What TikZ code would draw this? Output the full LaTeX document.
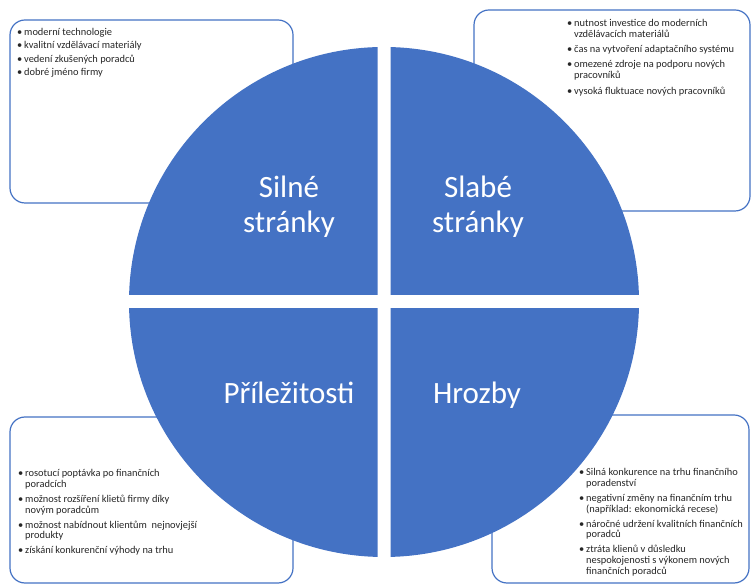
\documentclass[tikz,border=0pt]{standalone}
\usepackage{fontspec}
\setmainfont{Carlito}
\definecolor{swotblue}{HTML}{4472C4}
\newcommand{\bul}{\makebox[7pt][l]{\textbullet}}
\newcommand{\ind}{\hspace*{7pt}}
\tikzset{
  box/.style={draw=swotblue, line width=1.2pt, rounded corners=15pt, fill=white},
  list/.style={align=left, inner sep=0pt, anchor=north west, text=black!85,
    font=\fontsize{10.4}{10.9}\selectfont},
  title/.style={text=white, align=center, anchor=base, inner sep=0pt,
    font=\fontsize{31}{35}\selectfont}
}
\begin{document}
\begin{tikzpicture}[x=1pt,y=1pt]
		\useasboundingbox (0,0) rectangle (751,585);
		% Boxes
		\draw[box] (10,382) rectangle (293,565);
		\draw[box] (474,374) rectangle (750,575);
		\draw[box] (10,2) rectangle (293,168);
		\draw[box] (492,2) rectangle (749,170);
		
		% Quadrants
		\foreach \sx/\sy in {-1/1,1/1,-1/-1,1/-1}
		{
			\begin{scope}
				\clip (384+\sx*6.5,283+\sy*7) rectangle ++(\sx*300,\sy*300);
				\fill[swotblue] (384,283) circle (255pt);
			\end{scope}
		}
		
		% Titles
		\node[title] (silne) at (289,352) {Silné\\stránky};
		\node[title] (slabe) at (478,352) {Slabé\\stránky};
		\node[title] (prilez) at (289,181) {Příležitosti};
		\node[title] (hrozby) at (477,181) {Hrozby};
		
		% Lists
		\node[list] (silnelist) at (17,557) {\bul moderní technologie\\[2.4pt]
			\bul kvalitní vzdělávací materiály\\[2.4pt]
			\bul vedení zkušených poradců\\[2.4pt]
			\bul dobré jméno firmy};
		\node[list] (slabelist) at (567,566) {\bul nutnost investice do moderních\\
			\ind vzdělávacích materiálů\\[4.4pt]
			\bul čas na vytvoření adaptačního systému\\[4.4pt]
			\bul omezené zdroje na podporu nových\\
			\ind pracovníků\\[4.4pt]
			\bul vysoká fluktuace nových pracovníků};
		\node[list] (prilezlist) at (18,116) {\bul rosotucí poptávka po finančních\\
			\ind poradcích\\[4pt]
			\bul možnost rozšíření klietů firmy díky\\
			\ind novým poradcům\\[4pt]
			\bul možnost nabídnout klientům\ \ nejnovjejší\\
			\ind produkty\\[4pt]
			\bul získání konkurenční výhody na trhu};
		\node[list] (hrozbylist) at (579,117) {\bul Silná konkurence na trhu finančního\\
			\ind poradenství\\[4pt]
			\bul negativní změny na finančním trhu\\
			\ind (například: ekonomická recese)\\[4pt]
			\bul náročné udržení kvalitních finančních\\
			\ind poradců\\[4pt]
			\bul ztráta klienů v důsledku\\
			\ind nespokojenosti s výkonem nových\\
			\ind finančních poradců};
\end{tikzpicture}
\end{document}
